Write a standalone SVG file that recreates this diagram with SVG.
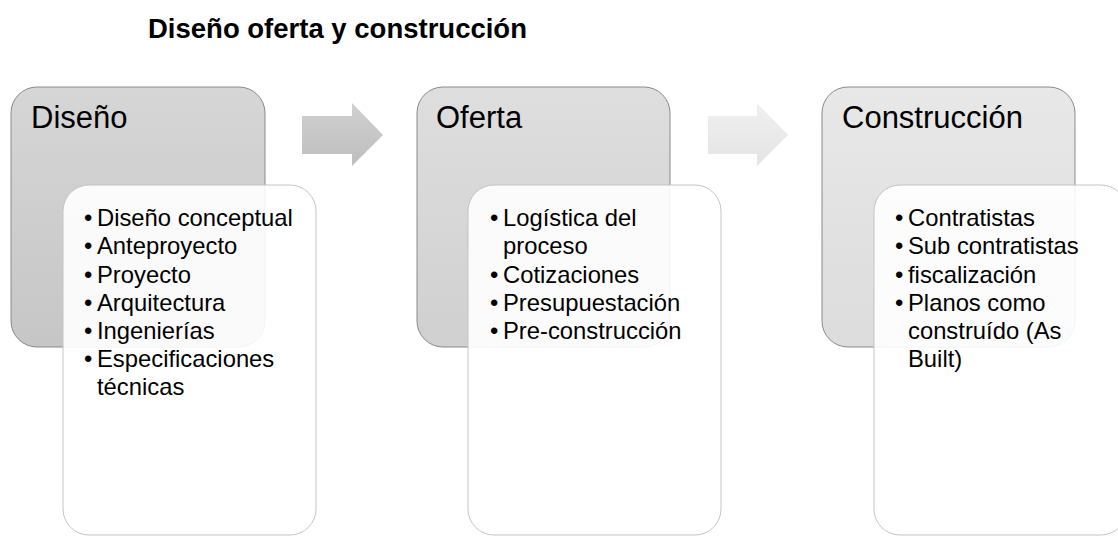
<svg xmlns="http://www.w3.org/2000/svg" width="1118" height="536" viewBox="0 0 1118 536">
<defs>
<linearGradient id="g1" x1="0" y1="0" x2="0" y2="1"><stop offset="0" stop-color="#d6d6d6"/><stop offset="1" stop-color="#c6c6c6"/></linearGradient>
<linearGradient id="g2" x1="0" y1="0" x2="0" y2="1"><stop offset="0" stop-color="#dedede"/><stop offset="1" stop-color="#d0d0d0"/></linearGradient>
<linearGradient id="g3" x1="0" y1="0" x2="0" y2="1"><stop offset="0" stop-color="#e8e8e8"/><stop offset="1" stop-color="#dcdcdc"/></linearGradient>
<linearGradient id="a1" x1="0" y1="0" x2="0" y2="1"><stop offset="0" stop-color="#d0d0d0"/><stop offset="1" stop-color="#bebebe"/></linearGradient>
<linearGradient id="a2" x1="0" y1="0" x2="0" y2="1"><stop offset="0" stop-color="#f0f0f0"/><stop offset="1" stop-color="#e4e4e4"/></linearGradient>
</defs>
<style>
.hdr{stroke:#8a8a8a;stroke-width:1}
.card{fill:#ffffff;fill-opacity:0.9;stroke:#c4c4c4;stroke-width:1}
text{font-family:"Liberation Sans",Arial,sans-serif;fill:#000}
.title{font-size:27.5px;font-weight:bold}
.h{font-size:31px}
.b{font-size:23.8px}
</style>
<rect width="1118" height="536" fill="#ffffff"/>
<text class="title" x="148" y="38">Diseño oferta y construcción</text>
<g id="connectors">
<polygon points="302,116 352,116 352,103 383,135 352,166 352,154 302,154" fill="url(#a1)"/>
<polygon points="708,116 757,116 757,103 788,135 757,166 757,154 708,154" fill="url(#a2)"/>
</g>
<g id="node-diseno">
<rect class="hdr" x="11" y="87" width="254" height="260" rx="26" fill="url(#g1)"/>
<text class="h" x="31" y="128">Diseño</text>
<rect class="card" x="63" y="185" width="253" height="350" rx="26"/>
<text class="b"><tspan x="84" y="226">•</tspan><tspan x="97" y="226">Diseño conceptual</tspan><tspan x="84" y="254.3">•</tspan><tspan x="97" y="254.3">Anteproyecto</tspan><tspan x="84" y="282.6">•</tspan><tspan x="97" y="282.6">Proyecto</tspan><tspan x="84" y="311">•</tspan><tspan x="97" y="311">Arquitectura</tspan><tspan x="84" y="339">•</tspan><tspan x="97" y="339">Ingenierías</tspan><tspan x="84" y="367">•</tspan><tspan x="97" y="367">Especificaciones</tspan><tspan x="97" y="395">técnicas</tspan></text>
</g>
<g id="node-oferta">
<rect class="hdr" x="417" y="87" width="253" height="260" rx="26" fill="url(#g2)"/>
<text class="h" x="436" y="128">Oferta</text>
<rect class="card" x="468" y="185" width="253" height="350" rx="26"/>
<text class="b"><tspan x="490" y="226">•</tspan><tspan x="503" y="226">Logística del</tspan><tspan x="503" y="254.3">proceso</tspan><tspan x="490" y="282.6">•</tspan><tspan x="503" y="282.6">Cotizaciones</tspan><tspan x="490" y="311">•</tspan><tspan x="503" y="311">Presupuestación</tspan><tspan x="490" y="339">•</tspan><tspan x="503" y="339">Pre-construcción</tspan></text>
</g>
<g id="node-construccion">
<rect class="hdr" x="822" y="87" width="253" height="260" rx="26" fill="url(#g3)"/>
<text class="h" x="842" y="128">Construcción</text>
<rect class="card" x="874" y="185" width="253" height="350" rx="26"/>
<text class="b"><tspan x="895" y="226">•</tspan><tspan x="908" y="226">Contratistas</tspan><tspan x="895" y="254.3">•</tspan><tspan x="908" y="254.3">Sub contratistas</tspan><tspan x="895" y="282.6">•</tspan><tspan x="908" y="282.6">fiscalización</tspan><tspan x="895" y="311">•</tspan><tspan x="908" y="311">Planos como</tspan><tspan x="908" y="339">construído (As</tspan><tspan x="908" y="367">Built)</tspan></text>
</g>
</svg>
